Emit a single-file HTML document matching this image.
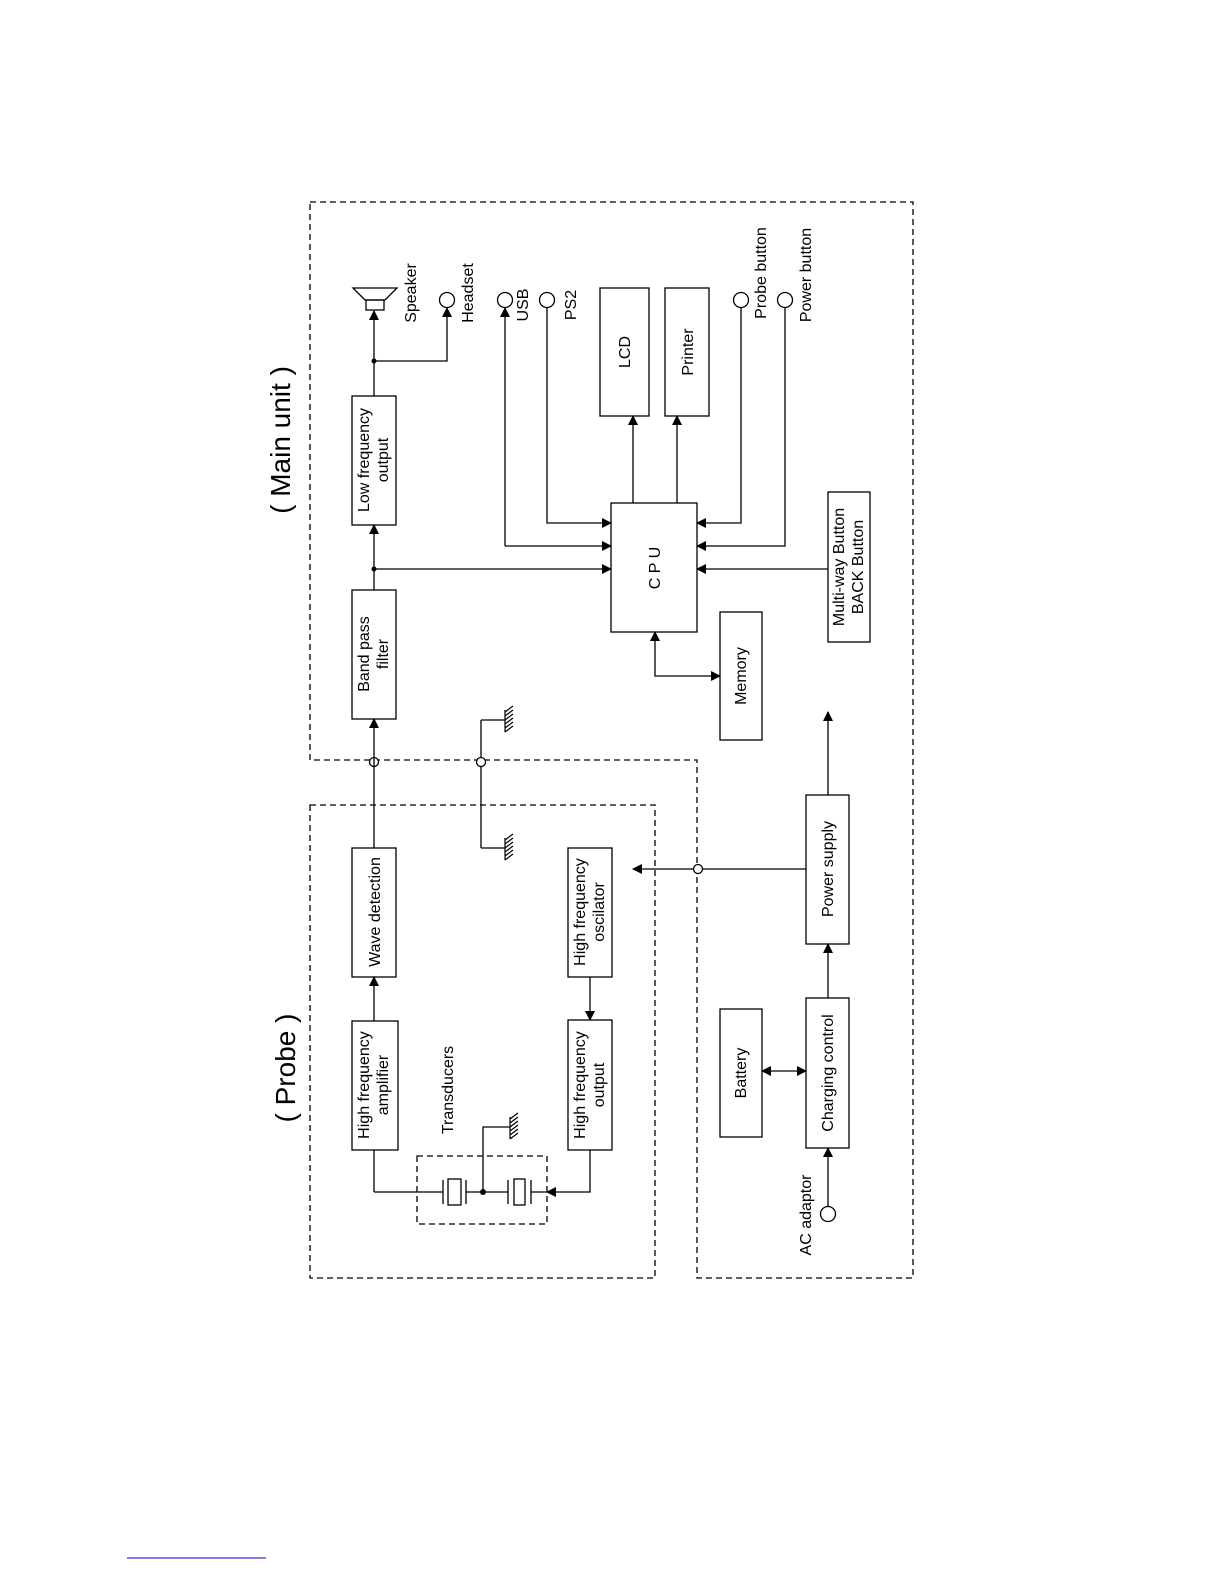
<!DOCTYPE html>
<html><head><meta charset="utf-8"><style>body{margin:0;background:#fff}svg{display:block}text{font-family:"Liberation Sans",sans-serif;font-size:16px;fill:#000}</style></head><body>
<svg width="1224" height="1584" viewBox="0 0 1224 1584" xmlns="http://www.w3.org/2000/svg">
<defs><marker id="a" markerWidth="10" markerHeight="10" refX="9" refY="5" orient="auto" markerUnits="userSpaceOnUse"><path d="M0,0 L10,5 L0,10 Z" fill="#000"/></marker>
<marker id="s" markerWidth="10" markerHeight="10" refX="1" refY="5" orient="auto" markerUnits="userSpaceOnUse"><path d="M10,0 L0,5 L10,10 Z" fill="#000"/></marker></defs>
<g fill="none" stroke="#000" stroke-width="1.3">
<path d="M310,202 H913 V1278 H697 V760 H310 Z" stroke-dasharray="6,4"/>
<rect x="310" y="805" width="345" height="473" stroke-dasharray="6,4"/>
<rect x="417" y="1156" width="130" height="68" stroke-dasharray="6,4"/>
<rect x="352" y="396" width="44" height="129"/>
<rect x="352" y="590" width="44" height="129"/>
<rect x="352" y="848" width="44" height="129"/>
<rect x="352" y="1021" width="46" height="129"/>
<rect x="568" y="848" width="44" height="129"/>
<rect x="568" y="1020" width="44" height="130"/>
<rect x="600" y="288" width="49" height="128"/>
<rect x="665" y="288" width="44" height="128"/>
<rect x="611" y="503" width="86" height="129"/>
<rect x="720" y="612" width="42" height="128"/>
<rect x="828" y="492" width="42" height="150"/>
<rect x="720" y="1009" width="42" height="128"/>
<rect x="806" y="998" width="43" height="150"/>
<rect x="806" y="795" width="43" height="149"/>
<!-- speaker -->
<path d="M353,288 H397 L385,300 H365 Z"/><rect x="366" y="300" width="18" height="10"/>
<!-- circles -->
<circle cx="447" cy="300" r="7.5"/><circle cx="505" cy="300" r="7.5"/><circle cx="547" cy="300" r="7.5"/>
<circle cx="741" cy="300" r="7.5"/><circle cx="785" cy="300" r="7.5"/><circle cx="828" cy="1214" r="7.5"/>
<circle cx="374" cy="762" r="4.5" fill="#fff"/><circle cx="481" cy="762" r="4.5" fill="#fff"/><circle cx="698" cy="869" r="4.5" fill="#fff"/>
<!-- signal chain -->
<path d="M374,1021 V977" marker-end="url(#a)"/>
<path d="M374,848 V757.5 M374,766.5 V719" marker-end="url(#a)"/>
<path d="M374,590 V525" marker-end="url(#a)"/>
<path d="M374,396 V311" marker-end="url(#a)"/>
<path d="M374,361 H447 V308" marker-end="url(#a)"/>
<path d="M374,569 H611" marker-end="url(#a)"/>
<path d="M828,569 H697" marker-end="url(#a)"/>
<path d="M505,546 V308" marker-end="url(#a)"/>
<path d="M505,546 H611" marker-end="url(#a)"/>
<path d="M547,308 V523 H611" marker-end="url(#a)"/>
<path d="M633,503 V416" marker-end="url(#a)"/>
<path d="M677,503 V416" marker-end="url(#a)"/>
<path d="M741,308 V523 H697" marker-end="url(#a)"/>
<path d="M785,308 V546 H697" marker-end="url(#a)"/>
<path d="M720,676 H655 V632" marker-start="url(#s)" marker-end="url(#a)"/>
<path d="M762,1071 H806" marker-start="url(#s)" marker-end="url(#a)"/>
<path d="M828,1206 V1148" marker-end="url(#a)"/>
<path d="M828,998 V944" marker-end="url(#a)"/>
<path d="M828,795 V712" marker-end="url(#a)"/>
<path d="M806,869 H702.5 M693.5,869 H633" marker-end="url(#a)"/>
<path d="M590,977 V1020" marker-end="url(#a)"/>
<path d="M590,1150 V1192 H547" marker-end="url(#a)"/>
<path d="M374,1150 V1192"/>
<path d="M374,1192 H443 M466,1192 H508 M531,1192 H547"/>
<path d="M443,1180 V1204 M466,1180 V1204 M508,1180 V1204 M531,1180 V1204"/>
<rect x="448" y="1179" width="13" height="26"/><rect x="514" y="1179" width="11" height="26"/>
<path d="M483,1192 V1127 H510"/>
<!-- ground line -->
<path d="M481,720 V757.5 M481,766.5 V848 M481,720 H505 M481,848 H505"/>
</g>
<g stroke="#000" stroke-width="1.2">
<path d="M505,710 V732 M505,712 l8,-6 M505,716 l8,-6 M505,720 l8,-6 M505,724 l8,-6 M505,728 l8,-6 M505,732 l8,-6"/>
<path d="M505,838 V860 M505,840 l8,-6 M505,844 l8,-6 M505,848 l8,-6 M505,852 l8,-6 M505,856 l8,-6 M505,860 l8,-6"/>
<path d="M510,1117 V1139 M510,1119 l8,-6 M510,1123 l8,-6 M510,1127 l8,-6 M510,1131 l8,-6 M510,1135 l8,-6 M510,1139 l8,-6"/>
</g>
<circle cx="374" cy="361" r="2.5"/><circle cx="374" cy="569" r="2.5"/><circle cx="483" cy="1192" r="3"/>
<g text-anchor="middle">
<text transform="translate(290,440) rotate(-90)" style="font-size:28px">( Main unit )</text>
<text transform="translate(295,1068) rotate(-90)" style="font-size:28px">( Probe )</text>
<text transform="translate(369,460) rotate(-90)">Low frequency</text>
<text transform="translate(388,460) rotate(-90)">output</text>
<text transform="translate(369,654) rotate(-90)">Band pass</text>
<text transform="translate(388,654) rotate(-90)">filter</text>
<text transform="translate(380,912) rotate(-90)">Wave detection</text>
<text transform="translate(369,1085) rotate(-90)">High frequency</text>
<text transform="translate(388,1085) rotate(-90)">amplifier</text>
<text transform="translate(585,912) rotate(-90)">High frequency</text>
<text transform="translate(604,912) rotate(-90)">oscilator</text>
<text transform="translate(585,1085) rotate(-90)">High frequency</text>
<text transform="translate(604,1085) rotate(-90)">output</text>
<text transform="translate(630,352) rotate(-90)">LCD</text>
<text transform="translate(693,352) rotate(-90)">Printer</text>
<text transform="translate(660,568) rotate(-90)">C P U</text>
<text transform="translate(746,676) rotate(-90)">Memory</text>
<text transform="translate(844,567) rotate(-90)">Multi-way Button</text>
<text transform="translate(863,567) rotate(-90)">BACK Button</text>
<text transform="translate(746,1073) rotate(-90)">Battery</text>
<text transform="translate(833,1073) rotate(-90)">Charging control</text>
<text transform="translate(833,869) rotate(-90)">Power supply</text>
<text transform="translate(453,1090) rotate(-90)">Transducers</text>
<text transform="translate(416,293) rotate(-90)">Speaker</text>
<text transform="translate(473,293) rotate(-90)">Headset</text>
<text transform="translate(528,305) rotate(-90)">USB</text>
<text transform="translate(576,305) rotate(-90)">PS2</text>
<text transform="translate(766,273) rotate(-90)">Probe button</text>
<text transform="translate(811,275) rotate(-90)">Power button</text>
<text transform="translate(811,1215) rotate(-90)">AC adaptor</text>
</g>
<line x1="127" y1="1558" x2="266" y2="1558" stroke="#00c" stroke-width="1"/>
</svg>
</body></html>
